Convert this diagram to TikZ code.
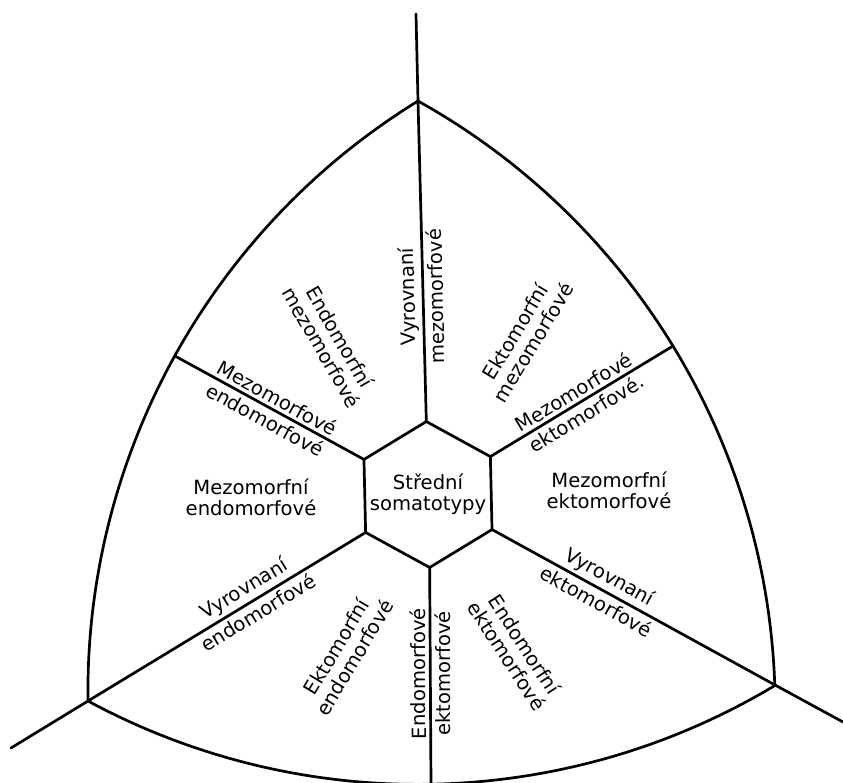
\documentclass[tikz,border=0pt]{standalone}
\usepackage{fontspec}
\setmainfont{DejaVu Sans}
\usetikzlibrary{calc}
\begin{document}
\begin{tikzpicture}[x=0.5pt,y=0.5pt]
\tikzset{
  edge/.style={line width=1.35pt, line join=round, line cap=round},
  lbl/.style={font=\fontsize{9.8}{10.6}\selectfont, inner sep=2pt},
  blk/.style={lbl, align=center},
}
\useasboundingbox (0,0) rectangle (843,-783);
% main vertices
\coordinate (T) at (418,-101);
\coordinate (L) at (88,-701);
\coordinate (R) at (775,-685);
\coordinate (Ttop) at (416,-14);
\coordinate (Lend) at (11,-748);
\coordinate (Rend) at (843,-722);
% hexagon
\coordinate (C) at (428,-494.5);
\coordinate (hT)  at ($(C)+(91.3:73)$);
\coordinate (hUR) at ($(C)+(31.3:73)$);
\coordinate (hLR) at ($(C)+(-28.7:73)$);
\coordinate (hB)  at ($(C)+(-88.7:73)$);
\coordinate (hLL) at ($(C)+(-148.7:73)$);
\coordinate (hUL) at ($(C)+(151.3:73)$);
% spoke ends on arcs
\coordinate (B1) at (175,-356);
\coordinate (B2) at (673,-346);
\coordinate (Bb) at (431,-784);
% Reuleaux arcs
\draw[edge] (T) arc[start angle=121.63, end angle=180.74, radius=694.1];
\draw[edge] (T) arc[start angle=60.86, end angle=1.98, radius=696.2];
\draw[edge] (L) arc[start angle=241.63, end angle=300.97, radius=694.2];
% hexagon
\draw[edge] (hT) -- (hUR) -- (hLR) -- (hB) -- (hLL) -- (hUL) -- cycle;
% spokes
\draw[edge] (hT) -- (T) -- (Ttop);
\draw[edge] (hUL) -- (B1);
\draw[edge] (hUR) -- (B2);
\draw[edge] (hLL) -- (L) -- (Lend);
\draw[edge] (hLR) -- (R) -- (Rend);
\draw[edge] (hB) -- (Bb);
% spoke labels
\path (hT) -- (T)
  node[lbl, pos=0.39, sloped, allow upside down, above] (s1a) {Vyrovnaní}
  node[lbl, pos=0.39, sloped, allow upside down, below] (s1b) {mezomorfové};
\path (B1) -- (hUL)
  node[lbl, pos=0.51, sloped, above] (s2a) {Mezomorfové}
  node[lbl, pos=0.51, sloped, below] (s2b) {endomorfové};
\path (hUR) -- (B2)
  node[lbl, pos=0.49, sloped, above] (s3a) {Mezomorfové}
  node[lbl, pos=0.49, sloped, below] (s3b) {ektomorfové.};
\path (L) -- (hLL)
  node[lbl, pos=0.59, sloped, above] (s4a) {Vyrovnaní}
  node[lbl, pos=0.59, sloped, below] (s4b) {endomorfové};
\path (hLR) -- (R)
  node[lbl, pos=0.39, sloped, above] (s5a) {Vyrovnaní}
  node[lbl, pos=0.39, sloped, below] (s5b) {ektomorfové};
\path (Bb) -- (hB)
  node[lbl, pos=0.51, sloped, allow upside down, above] (s6a) {Endomorfové}
  node[lbl, pos=0.51, sloped, allow upside down, below] (s6b) {ektomorfové};
% region labels
\node[blk] (mid) at (428,-494) {Střední\\somatotypy};
\node[blk] (r1) at (251,-497) {Mezomorfní\\endomorfové};
\node[blk] (r2) at (609,-490) {Mezomorfní\\ektomorfové};
\node[blk, rotate=-60] (d1) at (331,-342) {Endomorfní\\mezomorfové};
\node[blk, rotate=59] (d2) at (524,-337) {Ektomorfní\\mezomorfové};
\node[blk, rotate=59] (d3) at (345,-652) {Ektomorfní\\endomorfové};
\node[blk, rotate=-57] (d4) at (516,-650) {Endomorfní\\ektomorfové};
\end{tikzpicture}
\end{document}
